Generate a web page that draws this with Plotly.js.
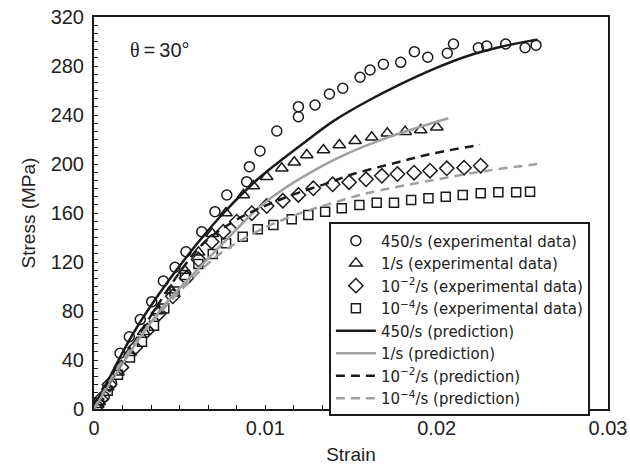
<!DOCTYPE html>
<html>
<head>
<meta charset="utf-8">
<script src="https://cdn.plot.ly/plotly-3.0.1.min.js"></script>
<style>html,body{margin:0;padding:0;background:#fff;}#chart{width:630px;height:470px;}</style>
</head>
<body>
<div id="chart"></div>
<script>
// Experimental data (strain, stress MPa)
const exp450Strain = [0.0002,0.0006,0.00103,0.00152,0.00206,0.0027,0.00337,0.00405,0.00473,0.00537,0.00629,0.00706,0.00775,0.00891,0.00907,0.00969,0.01067,0.01193,0.01193,0.0129,0.01374,0.01452,0.01553,0.01611,0.01689,0.0179,0.0187,0.01948,0.02062,0.02098,0.02243,0.02292,0.02403,0.02516,0.0258];
const exp450Stress = [2,10,21,45.5,59,73,87.6,104.5,115.7,128.4,144.7,161.1,174.7,185.6,197.8,210.6,226.9,238.6,246.8,248.2,257.1,261.8,270.8,276.7,281.4,283,291.7,287.1,290.4,298,294.9,296.3,298,294.9,297];

const exp1Strain = [0.0003,0.0008,0.0014,0.0021,0.0029,0.0037,0.0045,0.0053,0.0061,0.0069,0.0077,0.00872,0.0093,0.01008,0.01096,0.01169,0.01242,0.01339,0.01432,0.01524,0.01621,0.01712,0.01816,0.01907,0.02001];
const exp1Stress = [6,18,30,46,63,80,97,113,128,143,160,174.7,182,189.6,196.5,201.4,207.3,211.4,215.5,219,221.8,225.1,226.4,227.8,230];

const exp2Strain = [0.0004,0.0009,0.0016,0.0024,0.0031,0.0038,0.0046,0.0054,0.0061,0.00687,0.00755,0.00833,0.00921,0.01008,0.01102,0.01193,0.0128,0.01393,0.01489,0.01588,0.0168,0.01771,0.01868,0.01961,0.02059,0.0216,0.02257];
const exp2Stress = [8,20,34,50,64,78,92,107,122,136.6,144.7,152.9,159.8,165.7,170,174.7,180.2,183.4,185.1,187.5,190.4,191.8,192.9,194.5,196.5,197,198.6];

const exp4Strain = [0.0003,0.0008,0.0014,0.0021,0.0028,0.0035,0.0041,0.0047,0.00531,0.00609,0.00693,0.00771,0.00868,0.00956,0.01047,0.01154,0.01251,0.01349,0.01446,0.01549,0.0165,0.01751,0.01851,0.01952,0.02053,0.02152,0.02257,0.0236,0.02464,0.02545];
const exp4Stress = [5,15,28,42,55,68,82,96,109.4,118.4,126.5,135.3,140.7,146.7,150.2,154.9,158.4,161.1,163.8,166.5,168.4,168.4,170.6,172,173.3,174.7,176.1,176.9,176.9,177.4];

// Predictions
const pred450Strain = [0,0.00229,0.00424,0.00619,0.00755,0.0095,0.01261,0.01397,0.01592,0.01786,0.01981,0.02176,0.0237,0.02545,0.0259];
const pred450Stress = [0,61.8,102.6,137.9,159.8,186.9,221,235,251,265,277.5,288,295.5,300.5,301.5];

const pred1Strain = [0,0.002,0.004,0.00619,0.008,0.0095,0.011,0.0125,0.01455,0.01712,0.02068];
const pred1Stress = [0,44,83,116,142,163,179,192,207,221.5,237.3];

const pred2Strain = [0,0.0025,0.00619,0.00813,0.01008,0.01203,0.01378,0.01494,0.01786,0.01981,0.02253];
const pred2Stress = [0,58,132.5,152.9,166.5,177,185,191,201.9,208.7,215.5];

const pred4Strain = [0,0.0025,0.00677,0.00813,0.01008,0.01203,0.01378,0.01592,0.01981,0.02292,0.02545,0.0259];
const pred4Stress = [0,56,120.2,133.9,148.8,159.8,167.5,176.1,186.9,194.5,199.2,200];

const legendNames = [
  '450/s (experimental data)',
  '1/s (experimental data)',
  '10<sup>\u22122</sup>/s (experimental data)',
  '10<sup>\u22124</sup>/s (experimental data)',
  '450/s (prediction)',
  '1/s (prediction)',
  '10<sup>\u22122</sup>/s (prediction)',
  '10<sup>\u22124</sup>/s (prediction)'
];

const ink = '#1a1a1a';
const mk = (sym, size) => ({symbol: sym, size: size, color: ink, line: {color: ink, width: 1.5}});
const traces = [
  {x: exp450Strain, y: exp450Stress, mode: 'markers', name: legendNames[0], marker: mk('circle-open', 10)},
  {x: exp1Strain, y: exp1Stress, mode: 'markers', name: legendNames[1], marker: mk('triangle-up-open', 11)},
  {x: exp2Strain, y: exp2Stress, mode: 'markers', name: legendNames[2], marker: mk('diamond-open', 11)},
  {x: exp4Strain, y: exp4Stress, mode: 'markers', name: legendNames[3], marker: mk('square-open', 9)},
  {x: pred450Strain, y: pred450Stress, mode: 'lines', name: legendNames[4], line: {color: ink, width: 2.5, shape: 'spline'}},
  {x: pred1Strain, y: pred1Stress, mode: 'lines', name: legendNames[5], line: {color: '#a0a0a0', width: 2.5, shape: 'spline'}},
  {x: pred2Strain, y: pred2Stress, mode: 'lines', name: legendNames[6], line: {color: ink, width: 2.5, dash: '9px,6px', shape: 'spline'}},
  {x: pred4Strain, y: pred4Stress, mode: 'lines', name: legendNames[7], line: {color: '#a0a0a0', width: 2.5, dash: '9px,6px', shape: 'spline'}}
];

const fontFam = 'Liberation Sans, Arial, sans-serif';
const layout = {
  width: 630, height: 470,
  margin: {l: 94, r: 22, t: 17, b: 61},
  paper_bgcolor: '#fff', plot_bgcolor: '#fff',
  font: {family: fontFam, size: 19, color: '#222'},
  showlegend: true,
  legend: {
    x: 0.457, y: 0.476, xanchor: 'left', yanchor: 'top',
    bgcolor: '#fff', bordercolor: ink, borderwidth: 2,
    font: {family: 'DejaVu Sans, Liberation Sans, sans-serif', size: 15, color: '#222'},
    tracegroupgap: 0, itemsizing: 'trace', itemwidth: 40
  },
  xaxis: {
    range: [0, 0.03], dtick: 0.01, tick0: 0,
    showgrid: false, zeroline: false,
    showline: true, mirror: true, linecolor: ink, linewidth: 2,
    ticks: 'inside', ticklen: 4, tickcolor: ink, tickwidth: 1,
    minor: {dtick: 0.01/6, ticks: 'inside', ticklen: 4, tickcolor: ink, tickwidth: 1},
    tickfont: {size: 20},
    title: {text: 'Strain', font: {size: 19}, standoff: 10}
  },
  yaxis: {
    range: [0, 320], dtick: 40, tick0: 0,
    showgrid: false, zeroline: false,
    showline: true, mirror: true, linecolor: ink, linewidth: 2,
    ticks: 'inside', ticklen: 4, tickcolor: ink, tickwidth: 1,
    minor: {dtick: 40/6, ticks: 'inside', ticklen: 4, tickcolor: ink, tickwidth: 1},
    tickfont: {size: 20},
    ticklabelstandoff: 4,
    title: {text: 'Stress (MPa)', font: {size: 19}, standoff: 10}
  },
  annotations: [{
    xref: 'paper', yref: 'paper', x: 0.066, y: 0.916, xanchor: 'left', yanchor: 'middle',
    text: '<span style="font-family:Liberation Serif, serif">\u03b8</span>\u2009=\u200930\u00b0', showarrow: false, font: {size: 20, color: '#222', family: fontFam}
  }]
};

Plotly.newPlot('chart', traces, layout, {displayModeBar: false, staticPlot: true});
</script>
</body>
</html>
